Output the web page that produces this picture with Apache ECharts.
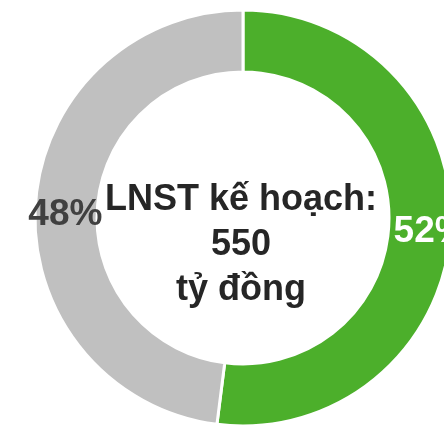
<!DOCTYPE html>
<html>
<head>
<meta charset="utf-8">
<script src="https://cdn.jsdelivr.net/npm/echarts@6/dist/echarts.min.js"></script>
<style>
  html, body { margin: 0; padding: 0; background: #fff; }
  #chart { width: 444px; height: 427px; }
</style>
</head>
<body>
<div id="chart"></div>
<script>
// 数据
var names = ['Đã thực hiện', 'Còn lại'];
var values = [52, 48];
var colors = ['#4caf2b', '#c0c0c0'];
var labelColors = ['#ffffff', '#404040'];
var labelOffsets = [[8, 2], [2, 8]];
var centerText = 'LNST kế hoạch:\n550\ntỷ đồng';

var chart = echarts.init(document.getElementById('chart'));
var option = {
  animation: false,
  graphic: [{
    type: 'text',
    x: 241,
    y: 245,
    style: {
      text: centerText,
      align: 'center',
      verticalAlign: 'middle',
      font: 'bold 36px "Liberation Sans", Arial, sans-serif',
      lineHeight: 45,
      fill: '#262626'
    }
  }],
  series: [{
    type: 'pie',
    center: [243, 218],
    radius: [146, 208],
    startAngle: 90,
    clockwise: true,
    itemStyle: { borderColor: '#fff', borderWidth: 3 },
    label: {
      show: true,
      position: 'inside',
      formatter: '{d}%',
      fontFamily: '"Liberation Sans", Arial, sans-serif',
      fontWeight: 'bold',
      fontSize: 37
    },
    labelLine: { show: false },
    emphasis: { disabled: true },
    data: names.map(function (n, i) {
      return {
        name: n,
        value: values[i],
        itemStyle: { color: colors[i] },
        label: { color: labelColors[i], offset: labelOffsets[i] }
      };
    })
  }]
};
chart.setOption(option);
</script>
</body>
</html>
